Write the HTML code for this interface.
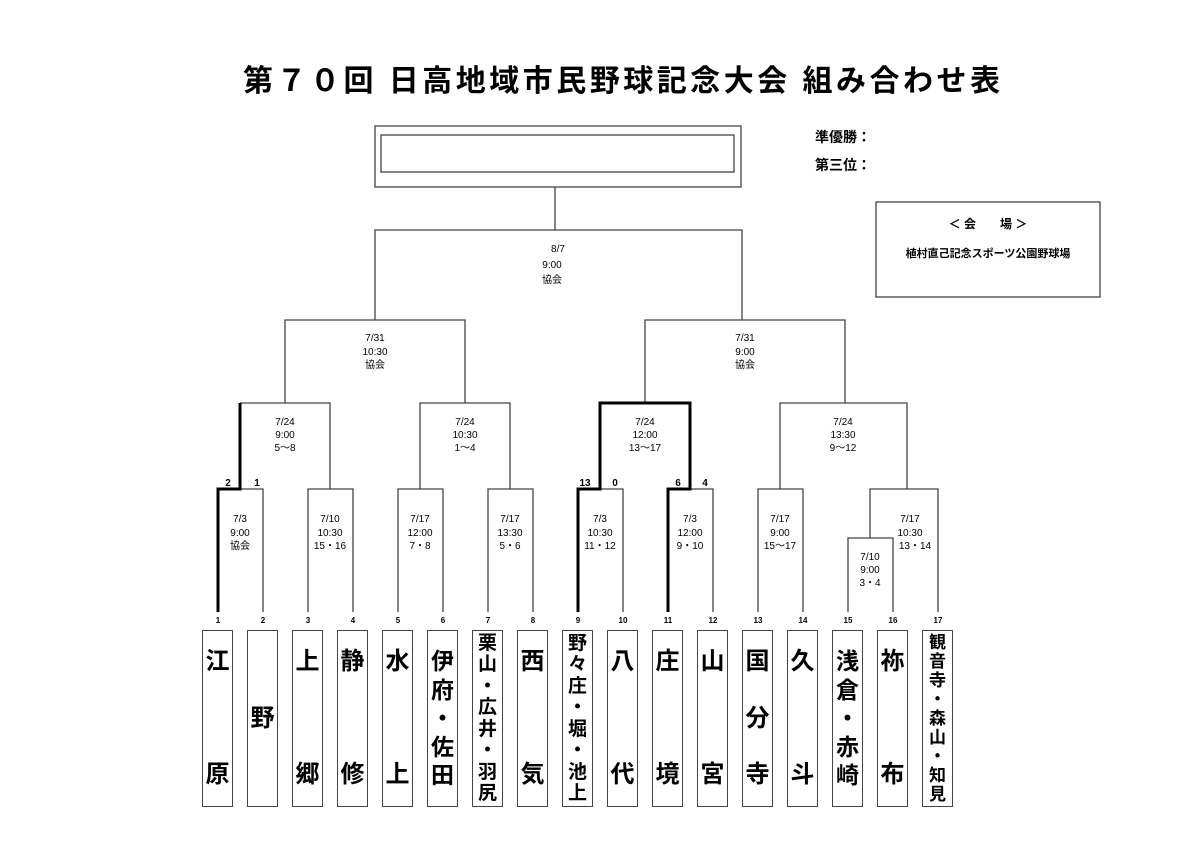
<!DOCTYPE html>
<html><head><meta charset="utf-8"><style>
body{margin:0;width:1200px;height:847px;background:#fff;position:relative;overflow:hidden;font-family:"Liberation Sans","Noto Sans CJK JP",sans-serif;}
.t{position:absolute;width:31px;top:630px;height:177px;box-sizing:border-box;border:1.5px solid #444;display:flex;flex-direction:column;align-items:center;justify-content:space-between;font-weight:bold;color:#000;line-height:1;}
.t span{display:block}
</style></head><body>
<svg width="1200" height="847" style="position:absolute;left:0;top:0" font-family="Liberation Sans, Noto Sans CJK JP, sans-serif">
<text x="243" y="91" font-size="30" font-weight="bold" textLength="757" lengthAdjust="spacing">第７０回 日高地域市民野球記念大会 組み合わせ表</text>
<g fill="none" stroke="#444" stroke-width="1.3">
<rect x="375" y="126" width="366" height="61"/>
<rect x="381" y="135" width="353" height="37"/>
<rect x="876" y="202" width="224" height="95"/>
<path d="M555 187V230M375 320V230H742V320"/>
<path d="M285 403V320H465V403M645 403V320H845V403"/>
<path d="M240 403H330V489M420 489V403H510V489M780 489V403H907V489"/>
<path d="M240 489H263V612M308 612V489H353V612M398 612V489H443V612M488 612V489H533V612"/>
<path d="M600 489H623V612M690 489H713V612M758 612V489H803V612M870 538V489H938V612M848 612V538H893V612"/>
</g>
<g fill="none" stroke="#000" stroke-width="3">
<path d="M218 612V489H240V403"/>
<path d="M578 612V489H600V403H690V489H668V612"/>
</g>
<g font-size="10" text-anchor="middle" fill="#000">
<text x="558" y="252">8/7</text><text x="552" y="268">9:00</text><text x="552" y="283">協会</text>
<text x="375" y="341">7/31</text><text x="375" y="355">10:30</text><text x="375" y="368">協会</text>
<text x="745" y="341">7/31</text><text x="745" y="355">9:00</text><text x="745" y="368">協会</text>
<text x="285" y="425">7/24</text><text x="285" y="438">9:00</text><text x="285" y="451">5～8</text>
<text x="465" y="425">7/24</text><text x="465" y="438">10:30</text><text x="465" y="451">1～4</text>
<text x="645" y="425">7/24</text><text x="645" y="438">12:00</text><text x="645" y="451">13～17</text>
<text x="843" y="425">7/24</text><text x="843" y="438">13:30</text><text x="843" y="451">9～12</text>
<text x="240" y="522">7/3</text><text x="240" y="536">9:00</text><text x="240" y="549">協会</text>
<text x="330" y="522">7/10</text><text x="330" y="536">10:30</text><text x="330" y="549">15・16</text>
<text x="420" y="522">7/17</text><text x="420" y="536">12:00</text><text x="420" y="549">7・8</text>
<text x="510" y="522">7/17</text><text x="510" y="536">13:30</text><text x="510" y="549">5・6</text>
<text x="600" y="522">7/3</text><text x="600" y="536">10:30</text><text x="600" y="549">11・12</text>
<text x="690" y="522">7/3</text><text x="690" y="536">12:00</text><text x="690" y="549">9・10</text>
<text x="780" y="522">7/17</text><text x="780" y="536">9:00</text><text x="780" y="549">15～17</text>
<text x="910" y="522">7/17</text><text x="910" y="536">10:30</text><text x="915" y="549">13・14</text>
<text x="870" y="560">7/10</text><text x="870" y="573">9:00</text><text x="870" y="586">3・4</text>
</g>
<g font-size="10" font-weight="bold" text-anchor="middle">
<text x="228" y="486">2</text><text x="257" y="486">1</text>
<text x="585" y="486">13</text><text x="615" y="486">0</text>
<text x="678" y="486">6</text><text x="705" y="486">4</text>
<text x="218" y="623" font-size="8">1</text><text x="263" y="623" font-size="8">2</text><text x="308" y="623" font-size="8">3</text><text x="353" y="623" font-size="8">4</text><text x="398" y="623" font-size="8">5</text><text x="443" y="623" font-size="8">6</text><text x="488" y="623" font-size="8">7</text><text x="533" y="623" font-size="8">8</text><text x="578" y="623" font-size="8">9</text><text x="623" y="623" font-size="8">10</text><text x="668" y="623" font-size="8">11</text><text x="713" y="623" font-size="8">12</text><text x="758" y="623" font-size="8">13</text><text x="803" y="623" font-size="8">14</text><text x="848" y="623" font-size="8">15</text><text x="893" y="623" font-size="8">16</text><text x="938" y="623" font-size="8">17</text>
</g>
<g font-weight="bold">
<text x="815" y="142" font-size="14">準優勝：</text>
<text x="815" y="170" font-size="14">第三位：</text>
<text x="988" y="228" font-size="12" text-anchor="middle">＜ 会　　場 ＞</text>
<text x="988" y="257" font-size="11" text-anchor="middle">植村直己記念スポーツ公園野球場</text>
</g>
</svg>
<div class="t" style="left:202px;font-size:24px;padding:19px 0 19px"><span>江</span><span>原</span></div>
<div class="t" style="left:247px;font-size:24px;justify-content:center"><span>野</span></div>
<div class="t" style="left:292px;font-size:24px;padding:19px 0 19px"><span>上</span><span>郷</span></div>
<div class="t" style="left:337px;font-size:24px;padding:19px 0 19px"><span>静</span><span>修</span></div>
<div class="t" style="left:382px;font-size:24px;padding:19px 0 19px"><span>水</span><span>上</span></div>
<div class="t" style="left:427px;font-size:23px;padding:19px 0 19px"><span>伊</span><span>府</span><span>・</span><span>佐</span><span>田</span></div>
<div class="t" style="left:472px;font-size:19px;padding:3px 0 3px"><span>栗</span><span>山</span><span>・</span><span>広</span><span>井</span><span>・</span><span>羽</span><span>尻</span></div>
<div class="t" style="left:517px;font-size:24px;padding:19px 0 19px"><span>西</span><span>気</span></div>
<div class="t" style="left:562px;font-size:19px;padding:3px 0 3px"><span>野</span><span>々</span><span>庄</span><span>・</span><span>堀</span><span>・</span><span>池</span><span>上</span></div>
<div class="t" style="left:607px;font-size:24px;padding:19px 0 19px"><span>八</span><span>代</span></div>
<div class="t" style="left:652px;font-size:24px;padding:19px 0 19px"><span>庄</span><span>境</span></div>
<div class="t" style="left:697px;font-size:24px;padding:19px 0 19px"><span>山</span><span>宮</span></div>
<div class="t" style="left:742px;font-size:24px;padding:19px 0 19px"><span>国</span><span>分</span><span>寺</span></div>
<div class="t" style="left:787px;font-size:24px;padding:19px 0 19px"><span>久</span><span>斗</span></div>
<div class="t" style="left:832px;font-size:23px;padding:19px 0 19px"><span>浅</span><span>倉</span><span>・</span><span>赤</span><span>崎</span></div>
<div class="t" style="left:877px;font-size:24px;padding:19px 0 19px"><span>祢</span><span>布</span></div>
<div class="t" style="left:922px;font-size:17px;padding:3px 0 3px"><span>観</span><span>音</span><span>寺</span><span>・</span><span>森</span><span>山</span><span>・</span><span>知</span><span>見</span></div>
</body></html>
